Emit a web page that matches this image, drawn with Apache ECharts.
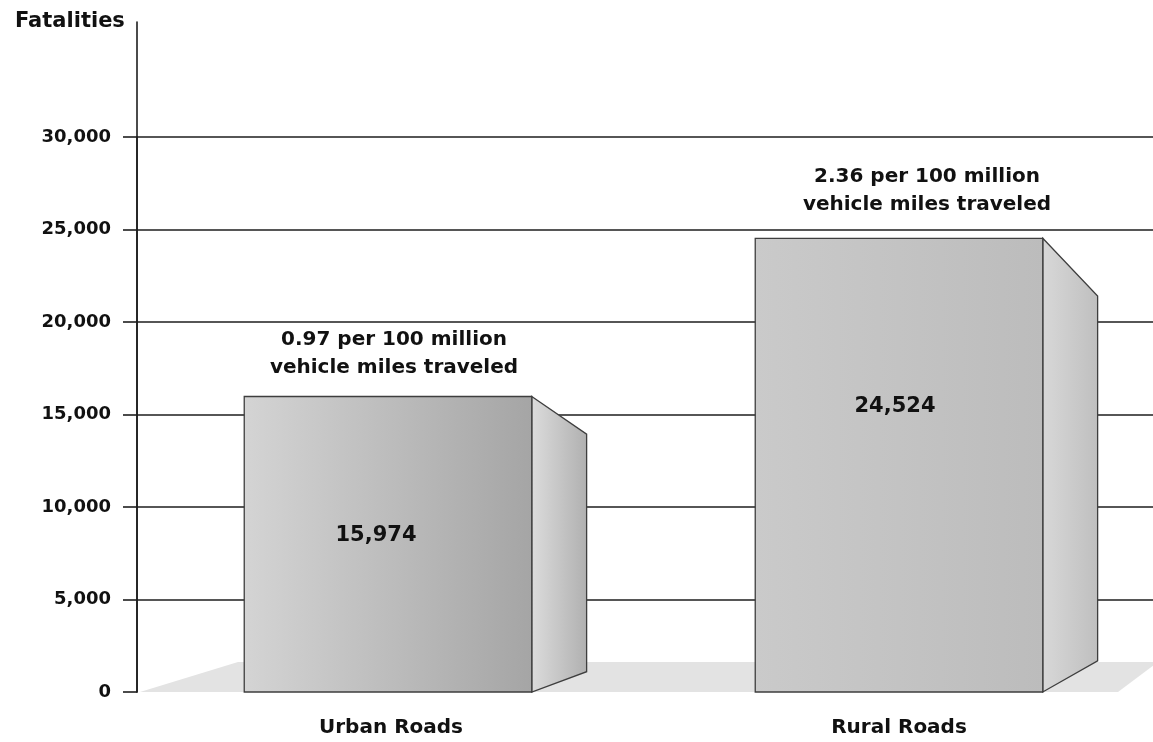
<!DOCTYPE html>
<html>
<head>
<meta charset="utf-8">
<title>Fatalities: Urban vs Rural Roads</title>
<script src="https://cdn.jsdelivr.net/npm/echarts@6/dist/echarts.min.js"></script>
<style>
  html, body { margin: 0; padding: 0; background: #ffffff; }
  #chart { width: 1153px; height: 742px; }
</style>
</head>
<body>
<div id="chart"></div>
<script>
// ---- data ----
const categories = ['Urban Roads', 'Rural Roads'];
const fatalities = [15974, 24524];
const rateNotes = [
  '0.97 per 100 million\nvehicle miles traveled',
  '2.36 per 100 million\nvehicle miles traveled'
];
const yMin = 0;
const yMax = 30000;
const yStep = 5000;

// ---- look ----
const FONT = 'DejaVu Sans, Liberation Sans, Arial, sans-serif';
const INK = '#111111';
const RULE = '#1e1e1e';
const EDGE = '#3e3e3e';
const frontShade = [['#d4d4d4', '#a5a5a5'], ['#cacaca', '#bcbcbc']];
const sideShade = [['#dcdcdc', '#b0b0b0'], ['#d8d8d8', '#bfbfbf']];
// per-box nudges for the callout text (pixels)
const noteShift = [[6, -43], [28, -48]];   // [dx from face centre, dy from top]
const valueShift = [[-12, 139], [-4, 168]];

function shade(stops) {
  return {
    type: 'linear', x: 0, y: 0, x2: 1, y2: 0,
    colorStops: [{ offset: 0, color: stops[0] }, { offset: 1, color: stops[1] }]
  };
}

// light grey floor slab under the boxes
function renderFloor(params, api) {
  const cs = params.coordSys;
  const base = api.coord([0, 0])[1];
  const rise = 30;
  return {
    type: 'polygon',
    shape: {
      points: [
        [cs.x + 3, base],
        [cs.x + 101, base - rise],
        [cs.x + cs.width + 5, base - rise],
        [cs.x + cs.width - 35, base]
      ]
    },
    style: { fill: '#e3e3e3', stroke: null }
  };
}

// 3-D box: front face, receding side face, and its labels
function renderBox(params, api) {
  const i = params.dataIndex;
  const v = api.value(1);
  const top = api.coord([i, v]);
  const base = api.coord([i, 0]);
  const band = api.size([1, 0])[0];
  const w = band * 0.566;
  const depth = band * 0.108;
  const cx = top[0] - (i === 0 ? 3 : 0);
  const xL = cx - w / 2;
  const xR = cx + w / 2;
  const yT = top[1];
  const yB = base[1];
  // side edges converge toward a point about a third of the way up the box
  const yV = yB - 0.35 * (yB - yT);
  const k = 0.196;
  const backT = yT + (yV - yT) * k;
  const backB = yB + (yV - yB) * k;

  return {
    type: 'group',
    children: [
      {
        type: 'polygon',
        shape: { points: [[xR, yT], [xR + depth, backT], [xR + depth, backB], [xR, yB]] },
        style: { fill: shade(sideShade[i]), stroke: EDGE, lineWidth: 1.3 }
      },
      {
        type: 'rect',
        shape: { x: xL, y: yT, width: w, height: yB - yT },
        style: { fill: shade(frontShade[i]), stroke: EDGE, lineWidth: 1.3 }
      },
      {
        type: 'text',
        style: {
          text: String(v.toLocaleString('en-US')),
          x: cx + valueShift[i][0],
          y: yT + valueShift[i][1],
          align: 'center',
          verticalAlign: 'middle',
          fontFamily: FONT,
          fontWeight: 'bold',
          fontSize: 21,
          fill: INK
        }
      },
      {
        type: 'text',
        style: {
          text: rateNotes[i],
          x: cx + noteShift[i][0],
          y: yT + noteShift[i][1],
          align: 'center',
          verticalAlign: 'middle',
          lineHeight: 28,
          fontFamily: FONT,
          fontWeight: 'bold',
          fontSize: 20,
          fill: INK
        }
      }
    ]
  };
}

const chart = echarts.init(document.getElementById('chart'), null, { renderer: 'canvas' });

chart.setOption({
  animation: false,
  backgroundColor: '#ffffff',
  title: {
    text: 'Fatalities',
    left: 10,
    top: 6,
    textStyle: { fontFamily: FONT, fontWeight: 'bold', fontSize: 21, color: INK }
  },
  grid: [
    { left: 137, right: 0, top: 137, bottom: 50 },
    { left: 137, right: 0, top: 22, bottom: 50 }
  ],
  xAxis: [
    {
      gridIndex: 0,
      type: 'category',
      data: categories,
      axisLine: { show: false },
      axisTick: { show: false },
      axisLabel: {
        margin: 26,
        fontFamily: FONT,
        fontWeight: 'bold',
        fontSize: 20,
        color: INK
      }
    },
    { gridIndex: 1, type: 'category', data: categories, show: false }
  ],
  yAxis: [
    {
      gridIndex: 0,
      type: 'value',
      min: yMin,
      max: yMax,
      interval: yStep,
      axisLine: { show: true, lineStyle: { color: RULE, width: 1.6 } },
      axisTick: { show: true, inside: false, length: 14, lineStyle: { color: RULE, width: 1.6 } },
      splitLine: { show: true, showMinLine: false, lineStyle: { color: RULE, width: 1.6 } },
      axisLabel: {
        margin: 26,
        fontFamily: FONT,
        fontWeight: 'bold',
        fontSize: 18,
        color: INK,
        formatter: (val) => val.toLocaleString('en-US')
      }
    },
    {
      gridIndex: 1,
      type: 'value',
      min: 0,
      max: 1,
      axisLine: { show: true, lineStyle: { color: RULE, width: 1.6 } },
      axisTick: { show: false },
      axisLabel: { show: false },
      splitLine: { show: false }
    }
  ],
  series: [
    {
      type: 'custom',
      name: 'floor',
      xAxisIndex: 0,
      yAxisIndex: 0,
      renderItem: renderFloor,
      data: [[0, 0]],
      clip: false,
      silent: true
    },
    {
      type: 'custom',
      name: 'Fatalities',
      xAxisIndex: 0,
      yAxisIndex: 0,
      renderItem: renderBox,
      data: fatalities.map((f, idx) => [idx, f]),
      clip: false
    }
  ]
});
</script>
</body>
</html>
